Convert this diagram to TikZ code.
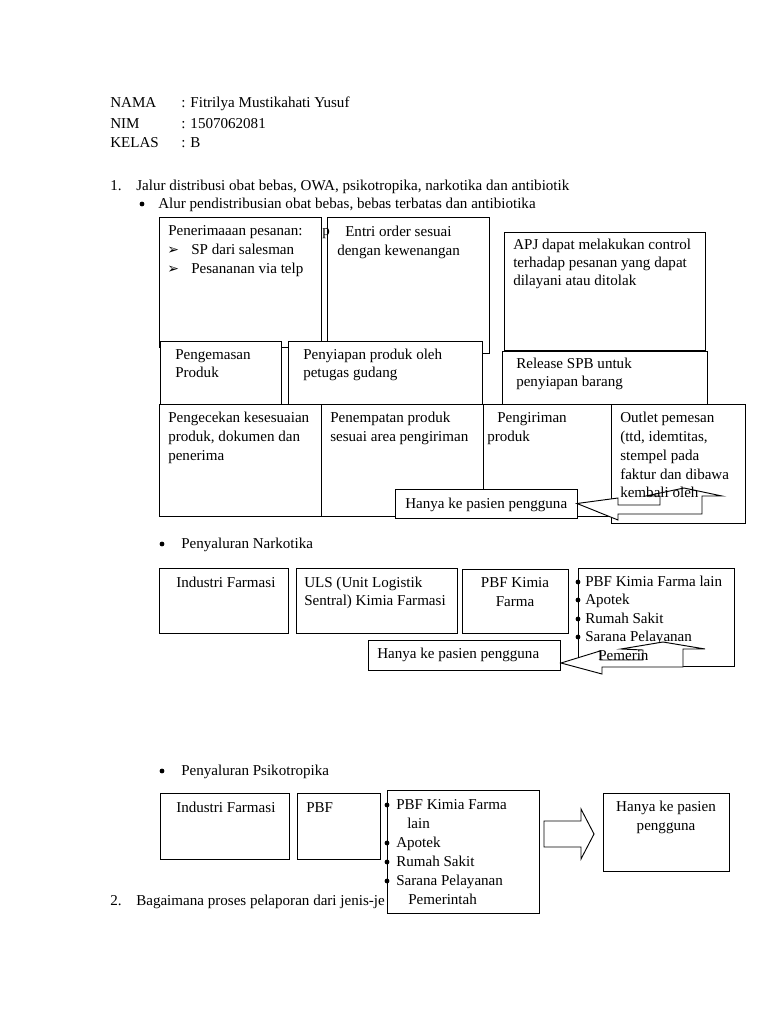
\documentclass[tikz,border=0pt]{standalone}
\usepackage{fontspec}
\setmainfont{Liberation Serif}
\newfontfamily\djv{DejaVu Sans}
\newcommand\fs{\fontsize{11.3}{13.8}\selectfont}
\newcommand\mybox[5]{\node[bx, minimum width={(#4-#2)*0.75pt}, minimum height={(#5-#3)*0.75pt}] (#1) at ({(#2+#4)/2},{(#3+#5)/2}) {};}
\tikzset{
  bx/.style={draw, fill=white, rectangle, inner sep=0pt, outer sep=0pt, line width=0.7pt},
  txt/.style={inner sep=0pt, anchor=base west, font=\fs},
  ctxt/.style={inner sep=0pt, anchor=base, font=\fs},
  blt/.style={circle, fill=black, inner sep=0pt, minimum size=3.6pt},
  mk/.style={inner sep=0pt, anchor=base west, font=\djv\fontsize{10.5}{12}\selectfont},
  arr/.style={draw, fill=white, line width=0.7pt, line join=miter}
}
\begin{document}
\begin{tikzpicture}[x=0.75pt, y=-0.75pt]
\fill[white] (0,0) rectangle (768,1024);
\useasboundingbox (0,0) rectangle (768,1024);
% header
\node[txt] (h1) at (110,108) {NAMA};
\node[txt] (h1b) at (181,108) {: Fitrilya Mustikahati Yusuf};
\node[txt] (h2) at (110,128) {NIM};
\node[txt] (h2b) at (181,128) {: 1507062081};
\node[txt] (h3) at (110,147) {KELAS};
\node[txt] (h3b) at (181,147) {: B};
\node[txt] (q1n) at (110,190) {1.};
\node[txt] (q1) at (136,190) {Jalur distribusi obat bebas, OWA, psikotropika, narkotika dan antibiotik};
\node[blt] (b1) at (142,204) {};
\node[txt] (s1) at (158,208) {Alur pendistribusian obat bebas, bebas terbatas dan antibiotika};
% diagram 1 row 1
\mybox{A}{159}{217}{321}{347}
\node[txt] (a1) at (168,235) {Penerimaaan pesanan:};
\node[mk] (a2m) at (167,254) {➢};
\node[txt] (a2) at (191,254) {SP dari salesman};
\node[mk] (a3m) at (167,273) {➢};
\node[txt] (a3) at (191,273) {Pesananan via telp};
\mybox{B}{327}{217}{489}{353}
\node[txt] (ap) at (322,235) {p};
\node[txt] (bt1) at (345,236) {Entri order sesuai};
\node[txt] (bt2) at (337,255) {dengan kewenangan};
\mybox{C}{504}{232}{705}{350}
\node[txt] (c1) at (513,249) {APJ dapat melakukan control};
\node[txt] (c2) at (513,267) {terhadap pesanan yang dapat};
\node[txt] (c3) at (513,285) {dilayani atau ditolak};
% row 2
\mybox{D}{160}{341}{281}{404}
\node[txt] (d1) at (175,359) {Pengemasan};
\node[txt] (d2) at (175,377) {Produk};
\mybox{E}{288}{341}{482}{404}
\node[txt] (e1) at (303,359) {Penyiapan produk oleh};
\node[txt] (e2) at (303,377) {petugas gudang};
\mybox{F}{502}{351}{707}{404}
\node[txt] (f1) at (516,368) {Release SPB untuk};
\node[txt] (f2) at (516,386) {penyiapan barang};
% row 3
\mybox{G}{159}{404}{321}{516}
\node[txt] (g1) at (168,422) {Pengecekan kesesuaian};
\node[txt] (g2) at (168,441) {produk, dokumen dan};
\node[txt] (g3) at (168,460) {penerima};
\mybox{H}{321}{404}{483}{516}
\node[txt] (hh1) at (330,422) {Penempatan produk};
\node[txt] (hh2) at (330,441) {sesuai area pengiriman};
\mybox{I}{483}{404}{611}{516}
\node[txt] (i1) at (497,422) {Pengiriman};
\node[txt] (i2) at (487,441) {produk};
\mybox{J}{611}{404}{745}{523}
\node[txt] (j1) at (620,422) {Outlet pemesan};
\node[txt] (j2) at (620,441) {(ttd, idemtitas,};
\node[txt] (j3) at (620,460) {stempel pada};
\node[txt] (j4) at (620,479) {faktur dan dibawa};
\mybox{K}{395}{489}{577}{518}
\node[txt] (k1) at (405,508) {Hanya ke pasien pengguna};
\coordinate (tip1) at (K.east);
\draw[arr] (tip1) -- (618,498) -- (618,505) -- (660,505) -- (660,496) -- (646,496) -- (684,488) -- (722,496) -- (702,496) -- (702,514) -- (618,514) -- (618,520) -- cycle;
\node[txt] (j5) at (620,497) {kembali oleh};
% Narkotika
\node[blt] (b2) at (162,544) {};
\node[txt] (s2) at (181,548) {Penyaluran Narkotika};
\mybox{N1}{159}{568}{288}{633}
\node[txt] (n1) at (176,587) {Industri Farmasi};
\mybox{N2}{296}{568}{457}{633}
\node[txt] (n2a) at (304,587) {ULS (Unit Logistik};
\node[txt] (n2b) at (304,605) {Sentral) Kimia Farmasi};
\mybox{N3}{462}{569}{568}{633}
\node[ctxt] (n3a) at (515,587) {PBF Kimia};
\node[ctxt] (n3b) at (515,606) {Farma};
\mybox{N4}{578}{568}{734}{666}
\node[txt] (n4a) at (585,586) {PBF Kimia Farma lain};
\node[txt] (n4b) at (585,604) {Apotek};
\node[txt] (n4c) at (585,623) {Rumah Sakit};
\node[txt] (n4d) at (585,641) {Sarana Pelayanan};
\node[blt] (nb1) at (N4.west |- 0,582) {};
\node[blt] (nb2) at (N4.west |- 0,600) {};
\node[blt] (nb3) at (N4.west |- 0,619) {};
\node[blt] (nb4) at (N4.west |- 0,637) {};
\mybox{N5}{368}{640}{560}{670}
\node[txt] (n5) at (377,658) {Hanya ke pasien pengguna};
\coordinate (tip2) at (561,663);
\draw[arr] (tip2) -- (600,651) -- (600,660) -- (643,660) -- (643,650) -- (621,649) -- (663,642) -- (705,649) -- (683,649) -- (683,667) -- (602,667) -- (602,674) -- cycle;
\node[txt] (n4e) at (598,660) {Pemerin};
% Psikotropika
\node[blt] (b3) at (162,771) {};
\node[txt] (s3) at (181,775) {Penyaluran Psikotropika};
\mybox{P1}{160}{793}{289}{859}
\node[txt] (p1) at (176,812) {Industri Farmasi};
\mybox{P2}{297}{793}{380}{859}
\node[txt] (p2) at (306,812) {PBF};
\node[txt] (q2n) at (110,905) {2.};
\node[txt] (q2) at (136,905) {Bagaimana proses pelaporan dari jenis-je};
\mybox{P3}{387}{790}{539}{913}
\node[txt] (p3a) at (396,809) {PBF Kimia Farma};
\node[txt] (p3b) at (407,828) {lain};
\node[txt] (p3c) at (396,847) {Apotek};
\node[txt] (p3d) at (396,866) {Rumah Sakit};
\node[txt] (p3e) at (396,885) {Sarana Pelayanan};
\node[txt] (p3f) at (408,904) {Pemerintah};
\node[blt] (pb1) at (P3.west |- 0,805) {};
\node[blt] (pb2) at (P3.west |- 0,843) {};
\node[blt] (pb3) at (P3.west |- 0,862) {};
\node[blt] (pb4) at (P3.west |- 0,881) {};
\mybox{P4}{603}{793}{729}{871}
\node[ctxt] (p4a) at (666,811) {Hanya ke pasien};
\node[ctxt] (p4b) at (666,830) {pengguna};
\draw[arr] (544,821) -- (581,821) -- (581,809) -- (594,834) -- (581,859) -- (581,847) -- (544,847) -- cycle;
\end{tikzpicture}
\end{document}
